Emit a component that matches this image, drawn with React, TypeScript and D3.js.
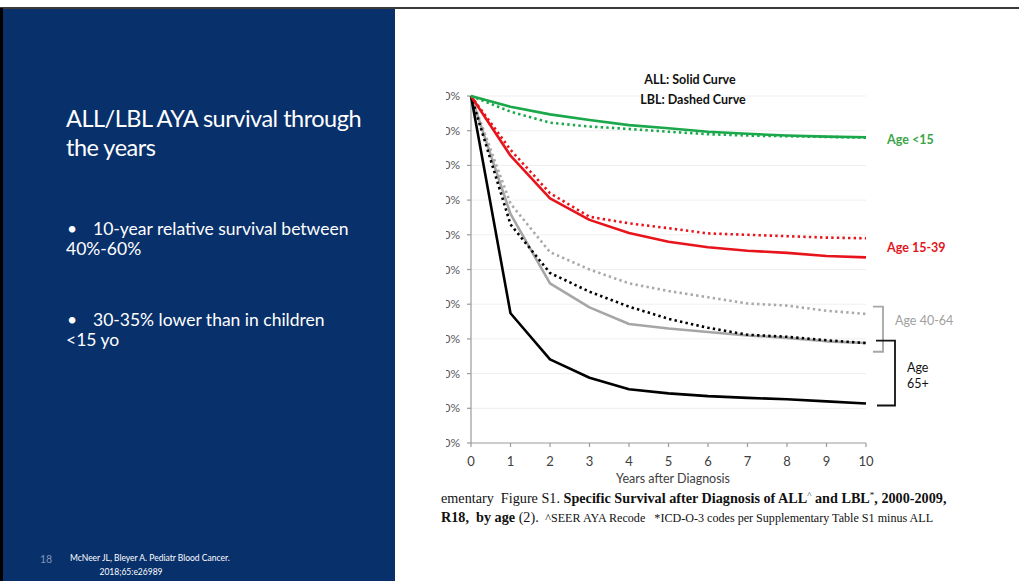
import React from 'react';
import * as d3 from 'd3';

// years after diagnosis
const years = [0, 1, 2, 3, 4, 5, 6, 7, 8, 9, 10];
const yTicks = [0, 10, 20, 30, 40, 50, 60, 70, 80, 90, 100];

// survival %
const under15ALL = [100, 96.9, 94.7, 93.1, 91.6, 90.7, 89.7, 89.1, 88.6, 88.3, 88.1];
const under15LBL = [100, 95.5, 92.3, 91.2, 90.5, 89.7, 89.0, 88.6, 88.4, 88.2, 88.0];
const age1539ALL = [100, 82.8, 70.5, 64.3, 60.5, 58.0, 56.4, 55.4, 54.8, 53.9, 53.5];
const age1539LBL = [100, 84.5, 72.0, 65.2, 63.3, 61.9, 60.4, 60.0, 59.6, 59.2, 59.0];
const age4064ALL = [100, 66, 46, 39.1, 34.3, 33.0, 32.0, 31.0, 30.3, 29.3, 28.8];
const age4064LBL = [100, 69, 55, 50, 46, 43.8, 42, 40.2, 39.6, 38.1, 37.2];
const age65ALL = [100, 37.4, 24.1, 18.8, 15.5, 14.3, 13.5, 13.0, 12.6, 12.0, 11.4];
const age65LBL = [100, 63, 49, 43.6, 39.3, 35.8, 33.2, 31.2, 30.6, 29.6, 28.8];

const series = [
  { values: age4064LBL, color: '#a9a9a9', dotted: true },
  { values: age4064ALL, color: '#a6a6a6', dotted: false },
  { values: age65LBL, color: '#000000', dotted: true },
  { values: age65ALL, color: '#000000', dotted: false },
  { values: age1539LBL, color: '#e8141b', dotted: true },
  { values: age1539ALL, color: '#e8141b', dotted: false },
  { values: under15LBL, color: '#1aa84b', dotted: true },
  { values: under15ALL, color: '#1aa84b', dotted: false },
];

const W = 1019;
const H = 581;
const chartFont = 'Lato, "Open Sans", sans-serif';

export default function App() {
  const x = d3.scaleLinear().domain([0, 10]).range([471, 866]);
  const y = d3.scaleLinear().domain([0, 100]).range([443, 96]);

  const line = d3.line<number>()
    .x((d, i) => x(years[i]))
    .y(d => y(d))
    .curve(d3.curveLinear);

  return (
    <div style={{ position: 'fixed', left: 0, top: 0, width: W, height: H, background: '#fff' }}>
      <svg width={W} height={H} style={{ display: 'block' }}>
        <defs>
          <clipPath id="cropLeft">
            <rect x={446} y={0} width={W - 446} height={H} />
          </clipPath>
        </defs>

        {/* slide frame */}
        <rect x={0} y={7} width={W} height={2} fill="#3a3a3a" />
        <rect x={0} y={8} width={3} height={H - 8} fill="#000" />
        <rect x={3} y={9} width={392} height={H - 9} fill="#08306b" />

        {/* left panel text */}
        <g fill="#fff" fontFamily={chartFont}>
          <text x={66} y={127} fontSize={23.5} letterSpacing={-0.5}>ALL/LBL AYA survival through</text>
          <text x={66} y={156} fontSize={23.5} letterSpacing={-0.5}>the years</text>
          <text x={67} y={235} fontSize={17.5}>•</text>
          <text x={93} y={235} fontSize={17.5}>10-year relative survival between</text>
          <text x={66} y={255} fontSize={17.5}>40%-60%</text>
          <text x={67} y={326} fontSize={17.5}>•</text>
          <text x={93} y={326} fontSize={17.5}>30-35% lower than in children</text>
          <text x={66} y={346} fontSize={17.5}>&lt;15 yo</text>
          <text x={40} y={563} fontSize={10.5} fill="#8496b8">18</text>
          <text x={70} y={561} fontSize={8.5}>McNeer JL, Bleyer A. Pediatr Blood Cancer.</text>
          <text x={131} y={575} fontSize={8.5} textAnchor="middle">2018;65:e26989</text>
        </g>

        {/* grid */}
        <g>
          {yTicks.filter(t => t > 0).map(t => (
            <line key={t} x1={x(0)} x2={x(10)} y1={y(t)} y2={y(t)} stroke="#efefef" strokeWidth={1} />
          ))}
        </g>

        {/* axes */}
        <g stroke="#9a9a9a" strokeWidth={1.2}>
          <line x1={x(0)} x2={x(0)} y1={y(100)} y2={y(0)} />
          <line x1={x(0)} x2={x(10)} y1={y(0)} y2={y(0)} />
          {yTicks.map(t => (
            <line key={'yt' + t} x1={x(0) - 4} x2={x(0)} y1={y(t)} y2={y(t)} />
          ))}
          {years.map(t => (
            <line key={'xt' + t} x1={x(t)} x2={x(t)} y1={y(0)} y2={y(0) + 4} />
          ))}
        </g>
        <g clipPath="url(#cropLeft)" fontFamily={chartFont} fontSize={12} fill="#595959" textAnchor="end">
          {yTicks.map(t => (
            <text key={t} x={460} y={y(t) + 4}>{t}%</text>
          ))}
        </g>
        <g fontFamily={chartFont} fontSize={13} fill="#404040" textAnchor="middle">
          {years.map(t => (
            <text key={t} x={x(t)} y={y(0) + 23}>{t}</text>
          ))}
          <text x={673} y={483} fontSize={12.5}>Years after Diagnosis</text>
        </g>

        {/* curves */}
        <g fill="none">
          {series.map((s, i) => (
            <path
              key={i}
              d={line(s.values) || ''}
              stroke={s.color}
              strokeWidth={2.6}
              strokeDasharray={s.dotted ? '2.4 3.2' : undefined}
              strokeLinejoin="round"
            />
          ))}
        </g>

        {/* title */}
        <g fontFamily={chartFont} fontSize={12.5} fontWeight="bold" fill="#111" textAnchor="middle">
          <text x={690} y={84}>ALL: Solid Curve</text>
          <text x={693} y={104}>LBL: Dashed Curve</text>
        </g>

        {/* group labels */}
        <g fontFamily={chartFont} fontSize={12.5}>
          <text x={887} y={144} fill="#3aa548" fontWeight="bold">Age &lt;15</text>
          <text x={887} y={252} fill="#e3161d" fontWeight="bold">Age 15-39</text>
          <text x={895} y={325} fill="#a0a0a0">Age 40-64</text>
          <text x={907} y={372} fill="#111">Age</text>
          <text x={907} y={388} fill="#111">65+</text>
        </g>

        {/* brackets */}
        <path d={`M873,${y(39.3)} H883 V${y(26.3)} H873`} fill="none" stroke="#a6a6a6" strokeWidth={1.8} />
        <path d={`M876,${y(29.5)} H895 V${y(10.8)} H877`} fill="none" stroke="#111" strokeWidth={1.8} />

        {/* caption */}
        <g fontFamily='"Liberation Serif", "Times New Roman", serif' fill="#111">
          <text x={441} y={503} fontSize={14.2}>
            ementary&#160; Figure S1. <tspan fontWeight="bold">Specific Survival after Diagnosis of ALL</tspan>
            <tspan fontSize={9} dy={-5}>^</tspan>
            <tspan fontWeight="bold" dy={5}> and LBL</tspan>
            <tspan fontSize={9} dy={-5}>*</tspan>
            <tspan fontWeight="bold" dy={5}>, 2000-2009,</tspan>
          </text>
          <text x={441} y={522} fontSize={14.2}>
            <tspan fontWeight="bold">R18,&#160; by age</tspan> (2).&#160;
            <tspan fontSize={12.1}>&#160;^SEER AYA Recode&#160;&#160; *ICD-O-3 codes per Supplementary Table S1 minus ALL</tspan>
          </text>
        </g>
      </svg>
    </div>
  );
}
